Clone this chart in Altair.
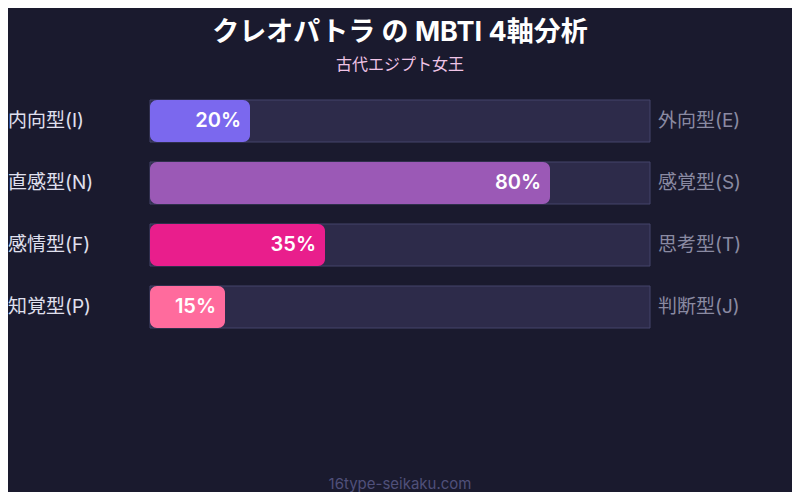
import altair as alt
import pandas as pd

left_labels = ["内向型(I)", "直感型(N)", "感情型(F)", "知覚型(P)"]
right_labels = ["外向型(E)", "感覚型(S)", "思考型(T)", "判断型(J)"]
values = [20, 80, 35, 15]
colors = ["#7b68ee", "#9b59b6", "#e91e8c", "#ff6b9d"]

title_text = "クレオパトラ の MBTI 4軸分析"
subtitle_text = "古代エジプト女王"
footer_text = "16type-seikaku.com"

FONT = "Inter, 'Noto Sans CJK JP', sans-serif"

df = pd.DataFrame({
    "left": left_labels,
    "right": right_labels,
    "value": values,
    "start": [0] * len(values),
    "end": [100] * len(values),
    "pct": [f"{v}%" for v in values],
})

W, H = 500, 228
xs = alt.Scale(domain=[0, 100], nice=False, zero=True)
ys = alt.Scale(domain=left_labels, paddingInner=20 / 62, paddingOuter=0)

base = alt.Chart(df)

track = base.mark_bar(color="#2d2b4a", stroke="#45446a", strokeWidth=1).encode(
    x=alt.X("start:Q", scale=xs, axis=None),
    x2="end:Q",
    y=alt.Y("left:N", scale=ys, axis=None),
)

fill = base.mark_bar(cornerRadius=7).encode(
    x=alt.X("start:Q", scale=xs, axis=None),
    x2="value:Q",
    y=alt.Y("left:N", scale=ys, axis=None),
    color=alt.Color("left:N", scale=alt.Scale(domain=left_labels, range=colors), legend=None),
)

pct = base.mark_text(align="right", baseline="middle", dx=-9, fontSize=20,
                     fontWeight=600, color="#ffffff", font=FONT).encode(
    x=alt.X("value:Q", scale=xs, axis=None),
    y=alt.Y("left:N", scale=ys, axis=None),
    text="pct:N",
)

left_txt = base.mark_text(align="left", baseline="middle", fontSize=19,
                          color="#e0e0ee", font=FONT).encode(
    x=alt.value(-142),
    y=alt.Y("left:N", scale=ys, axis=None),
    text="left:N",
)

right_txt = base.mark_text(align="left", baseline="middle", fontSize=19,
                           color="#8a8aa2", font=FONT).encode(
    x=alt.value(508),
    y=alt.Y("left:N", scale=ys, axis=None),
    text="right:N",
)

tdf = pd.DataFrame({"t": [title_text]})
sdf = pd.DataFrame({"t": [subtitle_text]})
fdf = pd.DataFrame({"t": [footer_text]})

title = alt.Chart(tdf).mark_text(align="center", baseline="middle", fontSize=27,
                                 fontWeight="bold", color="#ffffff", font=FONT).encode(
    x=alt.value(250), y=alt.value(-67), text="t:N")
subtitle = alt.Chart(sdf).mark_text(align="center", baseline="middle", fontSize=16,
                                    color="#f0c4e6", font=FONT).encode(
    x=alt.value(250), y=alt.value(-35), text="t:N")
footer = alt.Chart(fdf).mark_text(align="center", baseline="middle", fontSize=15,
                                  color="#50507a", font=FONT).encode(
    x=alt.value(250), y=alt.value(384), text="t:N")

chart = alt.layer(track, fill, pct, left_txt, right_txt, title, subtitle, footer).properties(
    width=W,
    height=H,
    autosize=alt.AutoSizeParams(type="none"),
    padding={"left": 142, "top": 92, "right": 142, "bottom": 164},
    background="#1a1a2e",
).configure_view(stroke=None)

chart.save("out.html", embed_options={"renderer": "svg", "actions": False})
